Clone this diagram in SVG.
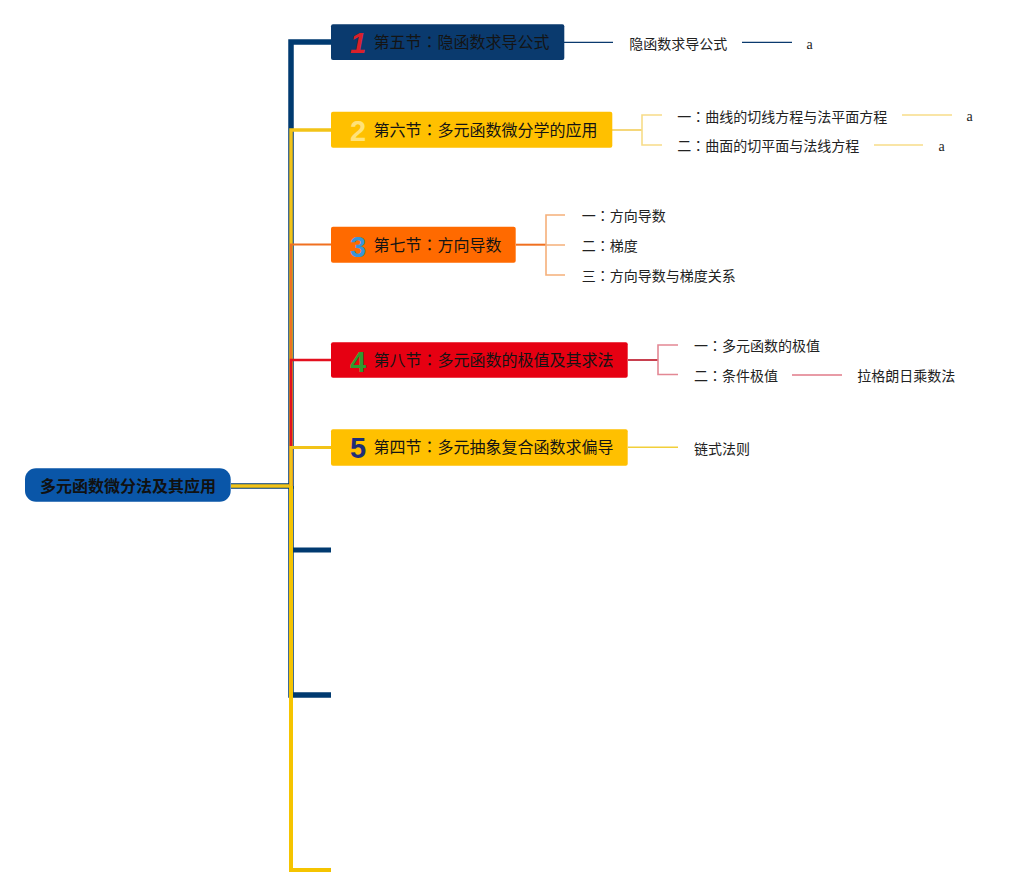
<svg xmlns="http://www.w3.org/2000/svg" width="1034" height="895" viewBox="0 0 1034 895">
<style>
.nt{font-family:"Noto Sans CJK SC","Noto Sans",sans-serif;font-size:16px;fill:#141414}
.ct{font-family:"Noto Sans CJK SC","Noto Sans",sans-serif;font-size:14px;fill:#222}
.c{font-family:"Noto Sans CJK TC","Noto Sans CJK SC",sans-serif}
.num{font-family:"Liberation Sans",Arial,sans-serif;font-weight:bold;font-size:29px;text-anchor:middle}
.a{font-family:"Liberation Serif","Times New Roman",serif;font-size:14px;fill:#222}
.rt{font-family:"Noto Sans CJK SC","Noto Sans",sans-serif;font-size:16px;font-weight:bold;fill:#111;text-anchor:middle}
path{fill:none}
</style>
<rect width="1034" height="895" fill="#ffffff"/>
<g id="connectors">
  <path d="M231,486 H291 V42 H331" stroke="#003a70" stroke-width="5.5"/>
  <path d="M291,486 V695 H331" stroke="#003a70" stroke-width="5.5"/>
  <path d="M291,550 H331" stroke="#003a70" stroke-width="5"/>
  <path d="M231,486 H291 V130 H331" stroke="#f2c318" stroke-width="3.5"/>
  <path d="M291,486 V870 H331" stroke="#f5c400" stroke-width="4"/>
  <path d="M291,486 V244.5 H331" stroke="#f07020" stroke-width="2.2"/>
  <path d="M291,486 V360 H331" stroke="#e3101f" stroke-width="2.6"/>
  <path d="M291,486 V447.5 H331" stroke="#f2c318" stroke-width="3.2"/>
  <path d="M564,42.3 H613" stroke="#0a3a6e" stroke-width="1.2"/>
  <path d="M742,42.3 H792" stroke="#0a3a6e" stroke-width="1.2"/>
  <path d="M612,130 H642" stroke="#f5d77a" stroke-width="2"/>
  <path d="M662,115 H642 V145 H662" stroke="#f7dc88" stroke-width="1.6"/>
  <path d="M902,115 H952" stroke="#f7dc88" stroke-width="1.6"/>
  <path d="M874,145 H923" stroke="#f7dc88" stroke-width="1.6"/>
  <path d="M516,244.7 H546" stroke="#f07020" stroke-width="2"/>
  <path d="M565,215 H546 V275 H565 M546,245 H565" stroke="#f5b07a" stroke-width="1.6"/>
  <path d="M628,360 H658" stroke="#c8404f" stroke-width="2"/>
  <path d="M678,345 H658 V374.5 H678" stroke="#e38894" stroke-width="1.6"/>
  <path d="M792,375 H842" stroke="#e07a88" stroke-width="1.6"/>
  <path d="M628,447.3 H678" stroke="#f2cf3a" stroke-width="1.4"/>
</g>
<g id="root">
  <rect x="25" y="468.3" width="205.7" height="33.4" rx="11" fill="#0a56a8"/>
  <text class="rt" x="128" y="491.5">多元函数微分法及其应用</text>
</g>
<g id="n1">
  <rect x="331" y="24.3" width="233.3" height="35.7" rx="2" fill="#0a3a6e"/>
  <text class="num" x="358" y="52.5" fill="#d9202a" font-style="italic" font-size="31">1</text>
  <text class="nt" x="373.5" y="47.5">第五节<tspan class="c">：</tspan>隐函数求导公式</text>
</g>
<g id="n1c">
  <text class="ct" x="629.3" y="49.3">隐函数求导公式</text>
  <text class="a" x="806.5" y="49">a</text>
</g>
<g id="n2">
  <rect x="331" y="111.7" width="281.3" height="36" rx="2" fill="#ffc000"/>
  <text class="num" x="358" y="140.5" fill="#ffe27a">2</text>
  <text class="nt" x="373.5" y="135.5">第六节<tspan class="c">：</tspan>多元函数微分学的应用</text>
</g>
<g id="n2c1">
  <text class="ct" x="677.3" y="121.5">一<tspan class="c">：</tspan>曲线的切线方程与法平面方程</text>
  <text class="a" x="966.5" y="120.5">a</text>
</g>
<g id="n2c2">
  <text class="ct" x="677.3" y="151">二<tspan class="c">：</tspan>曲面的切平面与法线方程</text>
  <text class="a" x="938.5" y="150.5">a</text>
</g>
<g id="n3">
  <rect x="331" y="226.7" width="184.7" height="36" rx="2" fill="#ff6a00"/>
  <text class="num" x="358" y="256.5" fill="#3a95d8" font-size="33">3</text>
  <text class="nt" x="373.5" y="250.5">第七节<tspan class="c">：</tspan>方向导数</text>
</g>
<g id="n3c">
  <text class="ct" x="581.7" y="220.5">一<tspan class="c">：</tspan>方向导数</text>
  <text class="ct" x="581.7" y="250.5">二<tspan class="c">：</tspan>梯度</text>
  <text class="ct" x="581.7" y="280.5">三<tspan class="c">：</tspan>方向导数与梯度关系</text>
</g>
<g id="n4">
  <rect x="331" y="342.3" width="296.7" height="35.4" rx="2" fill="#e60012"/>
  <text class="num" x="358" y="371.5" fill="#2f9a2f">4</text>
  <text class="nt" x="373.5" y="365.5">第八节<tspan class="c">：</tspan>多元函数的极值及其求法</text>
</g>
<g id="n4c">
  <text class="ct" x="694" y="350.5">一<tspan class="c">：</tspan>多元函数的极值</text>
  <text class="ct" x="694" y="380.5">二<tspan class="c">：</tspan>条件极值</text>
  <text class="ct" x="857.3" y="380.5">拉格朗日乘数法</text>
</g>
<g id="n5">
  <rect x="331" y="429.3" width="296.7" height="36.4" rx="2" fill="#ffc000"/>
  <text class="num" x="358" y="458" fill="#1e2e78">5</text>
  <text class="nt" x="373.5" y="453">第四节<tspan class="c">：</tspan>多元抽象复合函数求偏导</text>
</g>
<g id="n5c">
  <text class="ct" x="694" y="453.5">链式法则</text>
</g>
</svg>
